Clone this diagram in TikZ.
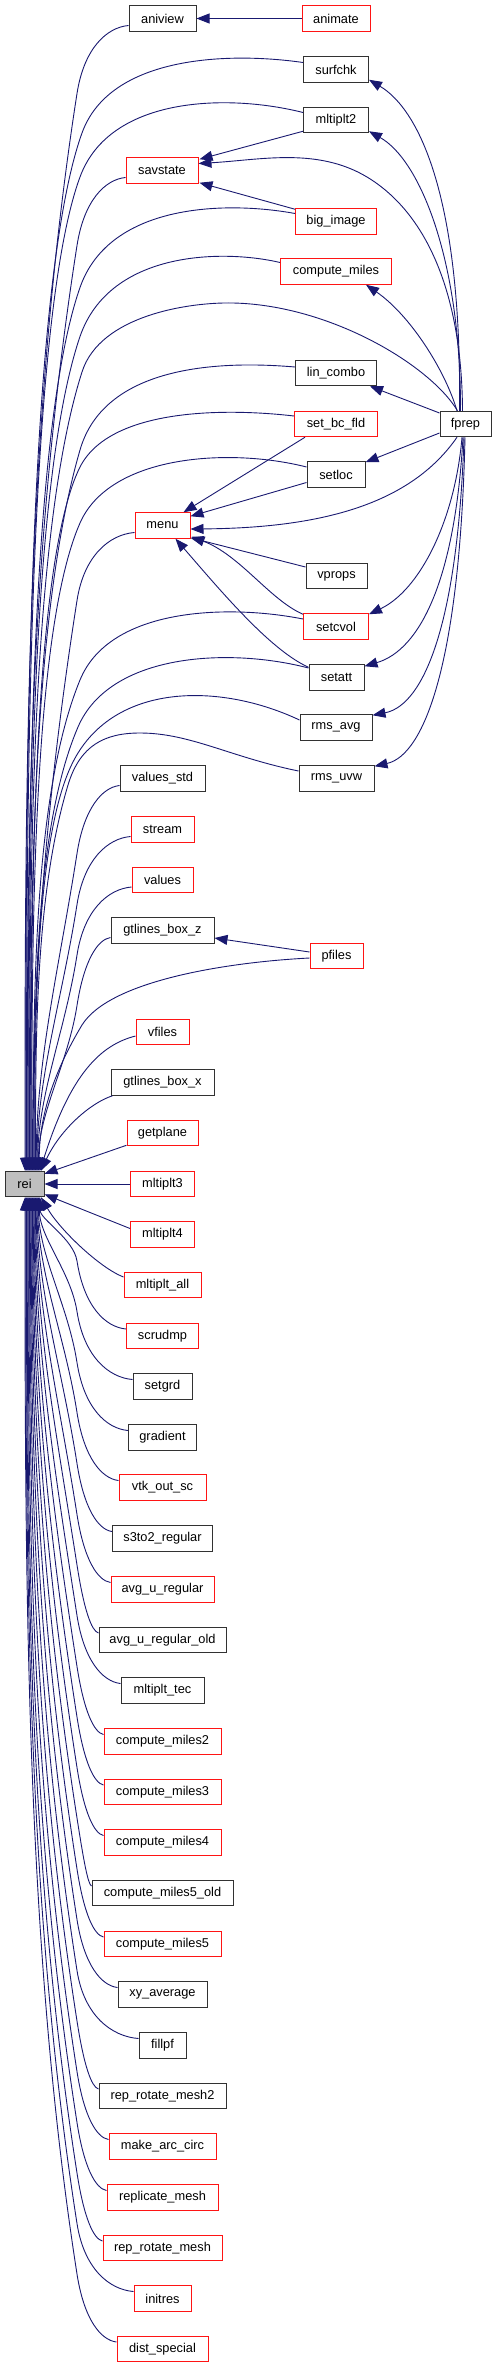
\documentclass[tikz,border=0pt]{standalone}
\usepackage{fontspec}
\setmainfont{Liberation Sans}
\usetikzlibrary{arrows.meta,calc}
\definecolor{edgec}{RGB}{25,25,112}
\definecolor{boxk}{RGB}{50,50,50}
\definecolor{boxr}{RGB}{255,20,20}
\definecolor{reifill}{RGB}{191,191,191}
\newcommand\reiU[5]{%
  \pgfmathsetmacro\myKX{#2}\pgfmathsetmacro\myKY{#3}%
  \pgfmathsetmacro\myLL{1171-\myKY}%
  \pgfmathsetmacro\mydd{min(0.35*\myLL,(\myKX-(#5))/(#4))}%
  \pgfmathsetmacro\mycAx{\myKX-(#4)*\mydd}%
  \pgfmathsetmacro\mycAy{\myKY+\mydd}%
  \pgfmathsetmacro\mycBy{1171-0.35*\myLL}%
  \draw[calls] #1 .. (\myKX,\myKY) .. controls (\mycAx,\mycAy) and (#5,\mycBy) .. ($(rei.north)+(#5-24.5,0)$);%
}
\newcommand\reiUM[4]{\reiU{($(#1.west)+(0,7)$) .. controls ({(#2+84)/2},{#3+9}) and (84,{#3+30})}{77}{#3+75}{0.156}{#4}}
\newcommand\reiD[5]{%
  \pgfmathsetmacro\myKX{#2}\pgfmathsetmacro\myKY{#3}%
  \pgfmathsetmacro\myLL{\myKY-1197}%
  \pgfmathsetmacro\mydd{min(0.35*\myLL,(\myKX-(#5))/(#4))}%
  \pgfmathsetmacro\mycAx{\myKX-(#4)*\mydd}%
  \pgfmathsetmacro\mycAy{\myKY-\mydd}%
  \pgfmathsetmacro\mycBy{1197+0.35*\myLL}%
  \draw[calls] #1 .. (\myKX,\myKY) .. controls (\mycAx,\mycAy) and (#5,\mycBy) .. ($(rei.south)+(#5-24.5,0)$);%
}
\newcommand\reiDM[4]{\reiD{($(#1.west)+(0,-7)$) .. controls ({(#2+84)/2},{#3-9}) and (84,{#3-30})}{77}{#3-75}{0.156}{#4}}
\begin{document}
\begin{tikzpicture}[x=1pt,y=-1pt,
  box/.style={draw=boxk, line width=1pt, fill=white, minimum height=25.5pt, inner sep=0pt, font=\fontsize{12.8}{15}\selectfont},
  rbox/.style={box, draw=boxr},
  calls/.style={draw=edgec, line width=0.9pt, -{Triangle[length=13pt,width=10pt]}, fill=none}]
\useasboundingbox (0,0) rectangle (496,2368);
% right side / upper nodes
\node[box, minimum width=67pt] (aniview) at (162.5,18.5) {aniview};
\node[rbox, minimum width=68pt] (animate) at (336,18.5) {animate};
\node[box, minimum width=65pt] (surfchk) at (336,69.5) {surfchk};
\node[box, minimum width=65pt] (mltiplt2) at (336,120) {mltiplt2};
\node[rbox, minimum width=72pt] (savstate) at (162,170.5) {savstate};
\node[rbox, minimum width=81pt] (big_image) at (336,221.5) {big\_image};
\node[rbox, minimum width=111pt] (compute_miles) at (336,271.5) {compute\_miles};
\node[box, minimum width=81pt] (lin_combo) at (336,373) {lin\_combo};
\node[rbox, minimum width=83pt] (set_bc_fld) at (336,424) {set\_bc\_fld};
\node[box, minimum width=51pt] (fprep) at (465.5,424) {fprep};
\node[box, minimum width=58pt] (setloc) at (336,474.5) {setloc};
\node[rbox, minimum width=55pt] (menu) at (162.5,525.5) {menu};
\node[box, minimum width=61pt] (vprops) at (336.5,576) {vprops};
\node[rbox, minimum width=65pt] (setcvol) at (336,626.5) {setcvol};
\node[box, minimum width=55pt] (setatt) at (336.5,677.5) {setatt};
\node[box, minimum width=72pt] (rms_avg) at (336,727.5) {rms\_avg};
\node[box, minimum width=75pt] (rms_uvw) at (336.5,778.5) {rms\_uvw};
\node[box, minimum width=85pt] (values_std) at (162.5,778.5) {values\_std};
\node[rbox, minimum width=63pt] (stream) at (162.5,829.5) {stream};
\node[rbox, minimum width=61pt] (values) at (162.5,880) {values};
\node[box, minimum width=103pt] (gtlines_box_z) at (162.5,930.5) {gtlines\_box\_z};
\node[rbox, minimum width=53pt] (pfiles) at (336.5,956) {pfiles};
\node[rbox, minimum width=53pt] (vfiles) at (162.5,1032) {vfiles};
\node[box, minimum width=103pt] (gtlines_box_x) at (162.5,1082.5) {gtlines\_box\_x};
\node[rbox, minimum width=71pt] (getplane) at (162.5,1133) {getplane};
\node[box, fill=reifill, minimum width=39pt] (rei) at (24.5,1184) {rei};
\node[rbox, minimum width=64pt] (mltiplt3) at (162.5,1184) {mltiplt3};
\node[rbox, minimum width=64pt] (mltiplt4) at (162.5,1234.5) {mltiplt4};
\node[rbox, minimum width=77pt] (mltiplt_all) at (162.5,1285) {mltiplt\_all};
\node[rbox, minimum width=72pt] (scrudmp) at (162.5,1336) {scrudmp};
\node[box, minimum width=59pt] (setgrd) at (162.5,1386.5) {setgrd};
\node[box, minimum width=68pt] (gradient) at (162.5,1437.5) {gradient};
\node[rbox, minimum width=87pt] (vtk_out_sc) at (162.5,1487.5) {vtk\_out\_sc};
\node[box, minimum width=100pt] (s3to2_regular) at (162.5,1538.5) {s3to2\_regular};
\node[rbox, minimum width=103pt] (avg_u_regular) at (162.5,1589.5) {avg\_u\_regular};
\node[box, minimum width=127pt] (avg_u_regular_old) at (162.5,1640) {avg\_u\_regular\_old};
\node[box, minimum width=83pt] (mltiplt_tec) at (162.5,1690.5) {mltiplt\_tec};
\node[rbox, minimum width=117pt] (compute_miles2) at (162.5,1741.5) {compute\_miles2};
\node[rbox, minimum width=117pt] (compute_miles3) at (162.5,1792) {compute\_miles3};
\node[rbox, minimum width=117pt] (compute_miles4) at (162.5,1842.5) {compute\_miles4};
\node[box, minimum width=141pt] (compute_miles5_old) at (162.5,1893) {compute\_miles5\_old};
\node[rbox, minimum width=117pt] (compute_miles5) at (162.5,1944) {compute\_miles5};
\node[box, minimum width=89pt] (xy_average) at (162.5,1994.5) {xy\_average};
\node[box, minimum width=47pt] (fillpf) at (162.5,2045.5) {fillpf};
\node[box, minimum width=127pt] (rep_rotate_mesh2) at (162.5,2096) {rep\_rotate\_mesh2};
\node[rbox, minimum width=107pt] (make_arc_circ) at (162.5,2146.5) {make\_arc\_circ};
\node[rbox, minimum width=111pt] (replicate_mesh) at (162.5,2197.5) {replicate\_mesh};
\node[rbox, minimum width=119pt] (rep_rotate_mesh) at (162.5,2248) {rep\_rotate\_mesh};
\node[rbox, minimum width=57pt] (initres) at (162.5,2298.5) {initres};
\node[rbox, minimum width=91pt] (dist_special) at (162.5,2349) {dist\_special};

% edges among upper nodes
\draw[calls] (animate) -- (aniview);
\draw[calls] ($(mltiplt2.south west)+(0,-2)$) -- ($(savstate.north east)+(1,2)$);
\draw[calls] ($(fprep.north)+(-3,0)$) .. controls (462,300) and (430,215) .. (367,177) .. controls (317,147) and (260,160) .. ($(savstate.east)+(0,-7)$);
\draw[calls] ($(big_image.north west)+(0,1)$) -- ($(savstate.south east)+(1,-1)$);
\draw[calls] ($(fprep.north)+(-6,0)$) .. controls (462,200) and (420,110) .. ($(surfchk.south east)+(0,-3)$);
\draw[calls] ($(fprep.north)+(-5,0)$) .. controls (461,260) and (420,160) .. ($(mltiplt2.south east)+(0,-2)$);
\draw[calls] ($(fprep.north)+(-8.5,0)$) .. controls (445,370) and (410,315) .. ($(compute_miles.south)+(30,0)$);
\draw[calls] ($(fprep.west)+(0,-11)$) -- ($(lin_combo.south east)+(-7,0)$);
\draw[calls] ($(fprep.west)+(0,9)$) -- ($(setloc.north east)+(0,1)$);
\draw[calls] ($(fprep.south)+(-8.5,0)$) .. controls (410,505) and (320,528) .. ($(menu.east)+(0,3.5)$);
\draw[calls] ($(fprep.south)+(-3.5,0)$) .. controls (455,520) and (420,590) .. ($(setcvol.north east)+(0,1)$);
\draw[calls] ($(fprep.south)+(-2.5,0)$) .. controls (455,580) and (420,650) .. ($(setatt.north east)+(0,2)$);
\draw[calls] ($(fprep.south)+(-1.5,0)$) .. controls (458,620) and (425,705) .. ($(rms_avg.north east)+(0,1)$);
\draw[calls] ($(fprep.south)+(-0.5,0)$) .. controls (460,660) and (425,755) .. ($(rms_uvw.north east)+(0,1)$);
\draw[calls] ($(set_bc_fld.south west)+(11,0)$) -- ($(menu.north east)+(-7,0)$);
\draw[calls] ($(setloc.west)+(0,8)$) -- ($(menu.north east)+(0,4)$);
\draw[calls] ($(vprops.west)+(0,-9)$) -- ($(menu.south east)+(0,-1)$);
\draw[calls] ($(setcvol.north west)+(0,1)$) .. controls (270,600) and (240,555) .. ($(menu.south east)+(1,-2)$);
\draw[calls] ($(setatt.north west)+(0,3)$) .. controls (270,650) and (220,590) .. ($(menu.south)+(13,0)$);
\draw[calls] ($(pfiles.west)+(0,-4)$) -- ($(gtlines_box_z.east)+(0,7.5)$);

% edges into rei from above
\reiUM{aniview}{129}{18.5}{25}
\reiU{($(surfchk.west)+(0,-7)$) .. controls (230,52) and (110,55)}{82}{133}{0.36}{25.75}
\reiU{($(mltiplt2.west)+(0,-7.5)$) .. controls (230,94) and (110,95)}{80}{177}{0.37}{26.5}
\reiUM{savstate}{126}{170.5}{27.25}
\reiU{($(big_image.west)+(0,-8)$) .. controls (230,201.5) and (110,201.5)}{80}{287.5}{0.35}{28}
\reiU{($(compute_miles.west)+(0,-9)$) .. controls (225,249.5) and (110,249.5)}{80}{336.5}{0.34}{28.75}
\reiU{($(fprep.north)+(-8,0)$) .. controls (430,365) and (330,305) .. (233,303) .. controls (190,302) and (100,315)}{82}{372}{0.32}{29.5}
\reiU{($(lin_combo.west)+(0,-6)$) .. controls (225,361) and (105,363)}{80}{450}{0.29}{30.25}
\reiU{($(set_bc_fld.west)+(0,-8)$) .. controls (225,408) and (110,408)}{80}{467}{0.5}{31}
\reiU{($(setloc.west)+(0,-7.5)$) .. controls (230,447.5) and (110,454.5)}{80}{523}{0.44}{31.75}
\reiUM{menu}{135}{525.5}{32.5}
\reiU{($(setcvol.west)+(0,-7.5)$) .. controls (230,604.5) and (110,606.5)}{80}{680}{0.41}{33.25}
\reiU{($(setatt.west)+(0,-9.5)$) .. controls (230,647.5) and (110,652.5)}{78}{727}{0.43}{34}
\reiU{($(rms_avg.west)+(0,-7.5)$) .. controls (220,682.5) and (115,682.5)}{74}{760}{0.53}{34.75}
\reiU{($(rms_uvw.west)+(0,-7.5)$) .. controls (230,757) and (190,733) .. (140,733) .. controls (105,733) and (80,745)}{68}{785}{0.3}{35.5}
\reiUM{values_std}{120}{778.5}{36.25}
\reiUM{stream}{131}{829.5}{37}
\reiUM{values}{132}{880}{37.75}
\reiUM{gtlines_box_z}{111}{930.5}{38.5}
\reiU{($(pfiles.west)+(0,2)$) .. controls (230,962) and (110,980)}{82}{1025}{0.6}{39.25}
\draw[calls] ($(vfiles.west)+(0,4)$) .. controls (100,1045) and (70,1075) .. ($(rei.north)+(40-24.5,0)$);
\draw[calls] ($(gtlines_box_x.south west)+(2,0)$) .. controls (90,1103) and (60,1130) .. ($(rei.north)+(41-24.5,0)$);
\draw[calls] ($(getplane.south west)+(0,-1)$) -- ($(rei.north east)+(0,3)$);
\draw[calls] (mltiplt3) -- (rei);
\draw[calls] ($(mltiplt4.west)+(0,-6)$) -- ($(rei.south east)+(0,-3)$);

% edges into rei from below
\draw[calls] ($(mltiplt_all.west)+(0,-8)$) .. controls (100,1268) and (60,1230) .. ($(rei.south)+(41-24.5,0)$);
\reiDM{scrudmp}{126}{1336}{40}
\reiDM{setgrd}{133}{1386.5}{39.25}
\reiDM{gradient}{128}{1437.5}{38.5}
\reiDM{vtk_out_sc}{119}{1487.5}{37.75}
\reiDM{s3to2_regular}{112}{1538.5}{37}
\reiDM{avg_u_regular}{111}{1589.5}{36.25}
\reiDM{avg_u_regular_old}{99}{1640}{35.5}
\reiDM{mltiplt_tec}{121}{1690.5}{34.75}
\reiDM{compute_miles2}{104}{1741.5}{34}
\reiDM{compute_miles3}{104}{1792}{33.25}
\reiDM{compute_miles4}{104}{1842.5}{32.5}
\reiDM{compute_miles5_old}{92}{1893}{31.75}
\reiDM{compute_miles5}{104}{1944}{31}
\reiDM{xy_average}{118}{1994.5}{30.25}
\reiDM{fillpf}{139}{2045.5}{29.5}
\reiDM{rep_rotate_mesh2}{99}{2096}{28.75}
\reiDM{make_arc_circ}{109}{2146.5}{28}
\reiDM{replicate_mesh}{107}{2197.5}{27.25}
\reiDM{rep_rotate_mesh}{103}{2248}{26.5}
\reiDM{initres}{134}{2298.5}{25.75}
\reiDM{dist_special}{117}{2349}{25}
\end{tikzpicture}
\end{document}
